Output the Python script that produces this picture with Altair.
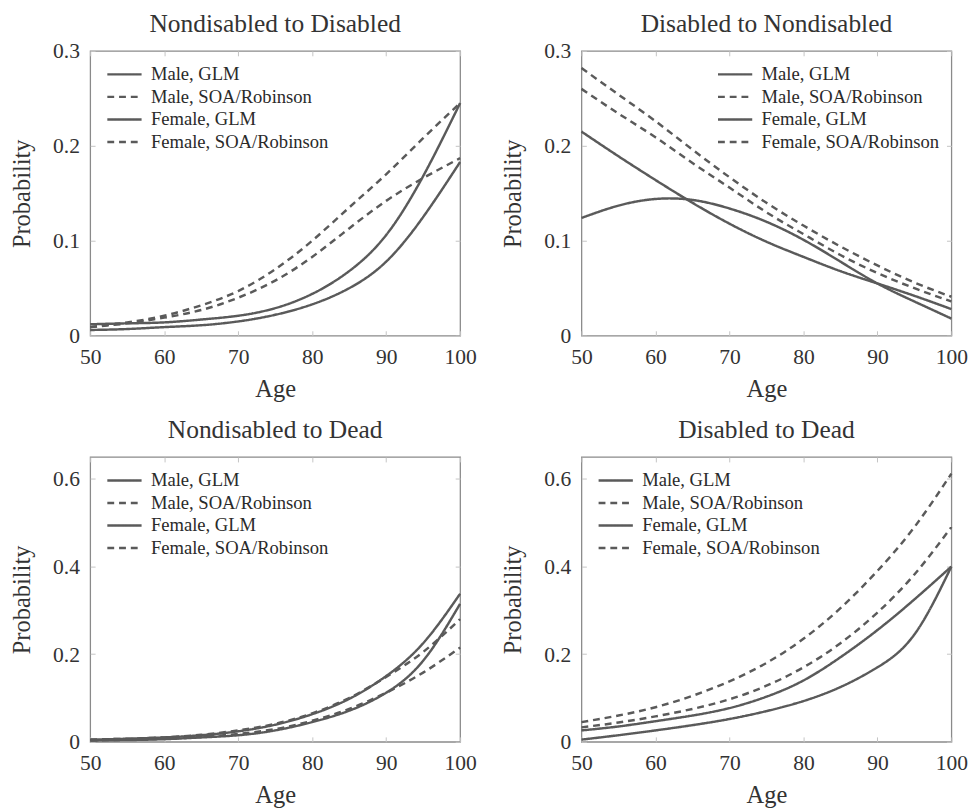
import altair as alt
import pandas as pd

ages = [50, 55, 60, 65, 70, 75, 80, 85, 90, 95, 100]
series = ["Male, GLM", "Male, SOA/Robinson", "Female, GLM", "Female, SOA/Robinson"]
x_ticks = [50, 60, 70, 80, 90, 100]
y_ticks_top = [0, 0.1, 0.2, 0.3]
y_ticks_bottom = [0, 0.2, 0.4, 0.6]

# Nondisabled to Disabled
nd_d_male_glm = [0.006, 0.007, 0.009, 0.011, 0.015, 0.022, 0.033, 0.050, 0.078, 0.125, 0.183]
nd_d_male_soa = [0.009, 0.013, 0.019, 0.027, 0.040, 0.058, 0.083, 0.113, 0.142, 0.166, 0.187]
nd_d_female_glm = [0.012, 0.013, 0.014, 0.017, 0.021, 0.029, 0.044, 0.068, 0.106, 0.168, 0.245]
nd_d_female_soa = [0.009, 0.014, 0.021, 0.032, 0.047, 0.070, 0.100, 0.135, 0.170, 0.208, 0.245]

# Disabled to Nondisabled
d_nd_male_glm = [0.215, 0.189, 0.164, 0.140, 0.118, 0.099, 0.083, 0.068, 0.055, 0.042, 0.028]
d_nd_male_soa = [0.260, 0.234, 0.209, 0.182, 0.156, 0.130, 0.107, 0.085, 0.066, 0.050, 0.036]
d_nd_female_glm = [0.124, 0.137, 0.144, 0.143, 0.134, 0.120, 0.101, 0.078, 0.055, 0.036, 0.018]
d_nd_female_soa = [0.282, 0.254, 0.226, 0.196, 0.167, 0.140, 0.116, 0.094, 0.074, 0.056, 0.041]

# Nondisabled to Dead
nd_dead_male_glm = [0.005, 0.007, 0.010, 0.015, 0.024, 0.039, 0.063, 0.098, 0.150, 0.225, 0.338]
nd_dead_male_soa = [0.005, 0.007, 0.010, 0.016, 0.026, 0.041, 0.065, 0.100, 0.148, 0.205, 0.280]
nd_dead_female_glm = [0.003, 0.004, 0.006, 0.010, 0.015, 0.026, 0.045, 0.071, 0.112, 0.185, 0.315]
nd_dead_female_soa = [0.003, 0.005, 0.007, 0.011, 0.018, 0.029, 0.048, 0.075, 0.112, 0.158, 0.215]

# Disabled to Dead
d_dead_male_glm = [0.026, 0.035, 0.047, 0.060, 0.077, 0.103, 0.140, 0.193, 0.255, 0.325, 0.400]
d_dead_male_soa = [0.045, 0.060, 0.079, 0.105, 0.138, 0.180, 0.235, 0.305, 0.390, 0.490, 0.612]
d_dead_female_glm = [0.005, 0.015, 0.026, 0.038, 0.052, 0.070, 0.093, 0.125, 0.170, 0.245, 0.400]
d_dead_female_soa = [0.033, 0.044, 0.058, 0.075, 0.097, 0.128, 0.170, 0.225, 0.295, 0.382, 0.490]

LINE = "#5a5a5a"
TEXT = "#333333"
FONT = "Liberation Serif"
W, H = 378, 291


def make_df(m_glm, m_soa, f_glm, f_soa):
    rows = []
    for name, vals in zip(series, [m_glm, m_soa, f_glm, f_soa]):
        for a, v in zip(ages, vals):
            rows.append({"age": a, "p": v, "series": name})
    return pd.DataFrame(rows)


def panel(title, df, ymax, yticks, legend_x, title_offset):
    base = alt.Chart(df)
    lines = base.mark_line(strokeWidth=2.5, color=LINE, interpolate="natural").encode(
        x=alt.X("age:Q", scale=alt.Scale(domain=[50, 100], nice=False),
                axis=alt.Axis(values=x_ticks, title="Age", offset=-5, tickSize=5,
                              domain=False, grid=False, labelFlush=False, labelPadding=11,
                              titlePadding=10)),
        y=alt.Y("p:Q", scale=alt.Scale(domain=[0, ymax], nice=False),
                axis=alt.Axis(values=yticks, format="~g", title="Probability", offset=-5,
                              tickSize=5, domain=False, grid=False, labelFlush=False,
                              labelPadding=11, titlePadding=19)),
        strokeDash=alt.StrokeDash(
            "series:N",
            scale=alt.Scale(domain=series, range=[[1, 0], [7, 5], [1, 0], [7, 5]]),
            legend=alt.Legend(title=None, orient="none", legendX=legend_x, legendY=16,
                              symbolType="stroke", symbolSize=1225, symbolStrokeWidth=2.5,
                              symbolStrokeColor=LINE, clipHeight=16, rowPadding=4,
                              labelFont=FONT, labelFontSize=19, labelColor="#2a2a2a",
                              labelOffset=8, labelLimit=400)),
    )
    # invisible copy that only carries the inward ticks on the top and right edges
    ticks = base.mark_line(opacity=0).encode(
        x=alt.X("age:Q", axis=alt.Axis(orient="top", values=x_ticks, labels=False, title=None,
                                       offset=-5, tickSize=5, domain=False, grid=False)),
        y=alt.Y("p:Q", axis=alt.Axis(orient="right", values=yticks, labels=False, title=None,
                                     offset=-5, tickSize=5, domain=False, grid=False)),
        detail="series:N",
    )
    return alt.layer(lines, ticks).resolve_axis(x="independent", y="independent").properties(
        width=W, height=H,
        title=alt.Title(title, font=FONT, fontSize=26, fontWeight="normal", color=TEXT,
                        offset=title_offset),
    )


p1 = panel("Nondisabled to Disabled",
           make_df(nd_d_male_glm, nd_d_male_soa, nd_d_female_glm, nd_d_female_soa),
           0.3, y_ticks_top, 16, 3)
p2 = panel("Disabled to Nondisabled",
           make_df(d_nd_male_glm, d_nd_male_soa, d_nd_female_glm, d_nd_female_soa),
           0.3, y_ticks_top, 138, 3)
p3 = panel("Nondisabled to Dead",
           make_df(nd_dead_male_glm, nd_dead_male_soa, nd_dead_female_glm, nd_dead_female_soa),
           0.65, y_ticks_bottom, 16, 14)
p4 = panel("Disabled to Dead",
           make_df(d_dead_male_glm, d_dead_male_soa, d_dead_female_glm, d_dead_female_soa),
           0.65, y_ticks_bottom, 16, 14)

row1 = alt.hconcat(p1, p2, spacing=22).resolve_scale(strokeDash="independent").resolve_legend(strokeDash="independent")
row2 = alt.hconcat(p3, p4, spacing=22).resolve_scale(strokeDash="independent").resolve_legend(strokeDash="independent")

chart = alt.vconcat(row1, row2, spacing=14).resolve_scale(
    strokeDash="independent"
).resolve_legend(
    strokeDash="independent"
).properties(
    padding={"left": 0, "top": -6, "right": 0, "bottom": 0}
).configure_view(
    stroke="#8a8a8a", strokeWidth=1.3
).configure_axis(
    labelFont=FONT, labelFontSize=22, labelColor=TEXT,
    titleFont=FONT, titleFontSize=25, titleFontWeight="normal", titleColor=TEXT,
    tickColor="#c4c4c4", tickWidth=1,
).configure_legend(
    strokeColor=None
)

chart.save("out.html", embed_options={"renderer": "svg", "actions": False})
